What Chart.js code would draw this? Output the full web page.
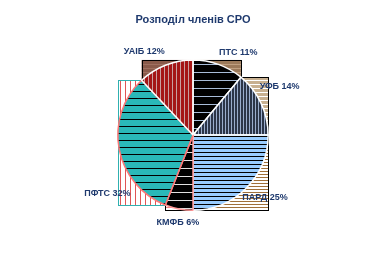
<!DOCTYPE html>
<html>
<head>
<meta charset="utf-8">
<script src="https://cdn.jsdelivr.net/npm/chart.js@4/dist/chart.umd.min.js"></script>
<style>
  html, body { margin:0; padding:0; background:#fff; }
  #wrap { width:389px; height:263px; position:relative; }
</style>
</head>
<body>
<div id="wrap"><canvas id="pie"></canvas></div>
<script>
// ── data ──
const labels = ['ПТС', 'УФБ', 'ПАРД', 'КМФБ', 'ПФТС', 'УАІБ'];
const shares = [11, 14, 25, 6, 32, 12];

const NAVY = '#1f3a6e';

// striped fills, roughly like the old hatch patterns
function stripes(bg, line, gap, vertical) {
  const c = document.createElement('canvas');
  c.width = gap; c.height = gap;
  const x = c.getContext('2d');
  x.fillStyle = bg; x.fillRect(0, 0, gap, gap);
  x.fillStyle = line;
  if (vertical) x.fillRect(0, 0, 1, gap); else x.fillRect(0, 0, gap, 1);
  return x.createPattern(c, 'repeat');
}

const fills = [
  stripes('#000000', '#a8bcd8', 8, false),
  stripes('#2c3548', '#9aaccc', 3, true),
  stripes('#99ccff', '#000000', 4, false),
  stripes('#000000', '#e0e0e0', 8, false),
  stripes('#2ab8b8', '#000000', 7, false),
  stripes('#a41616', '#c8a0a0', 4, true),
];
const edges = ['#ffffff', '#ffffff', '#ffffff', '#ff9999', '#ff7777', '#ffffff'];

// the old renderer leaked each slice's bounding box; mimic those corners
const boxFills = [
  stripes('#9c7a5a', '#c0a080', 4, false),
  stripes('#c8b090', '#ffffff', 4, false),
  stripes('#ffffff', '#a0703a', 3, false),
  stripes('#ffffff', '#f08080', 3, false),
  stripes('#ffffff', '#e05555', 5, true),
  stripes('#8a5a4a', '#a07060', 4, false),
];
const boxEdges = ['#000000', '#000000', '#000000', '#000000', '#30b0b0', '#000000'];

// label placement: angle nudge (deg) off the mid angle, radius factor
const labelPlace = [
  { nudge: 9, k: 1.25 },
  { nudge: -4, k: 1.32 },
  { nudge: -4, k: 1.27 },
  { nudge: -1, k: 1.18 },
  { nudge: -23.5, k: 1.38 },
  { nudge: -8.6, k: 1.29 },
];

function sectorBox(p) {
  const pts = [[p.x, p.y]];
  const add = a => pts.push([p.x + Math.cos(a) * p.outerRadius, p.y + Math.sin(a) * p.outerRadius]);
  add(p.startAngle); add(p.endAngle);
  for (let k = -4; k <= 8; k++) {
    const a = k * Math.PI / 2;
    if (a > p.startAngle && a < p.endAngle) add(a);
  }
  const xs = pts.map(q => q[0]), ys = pts.map(q => q[1]);
  return [Math.min(...xs), Math.min(...ys), Math.max(...xs), Math.max(...ys)];
}

const pieBoxes = {
  id: 'pieBoxes',
  beforeDatasetsDraw(chart) {
    const { ctx } = chart;
    const meta = chart.getDatasetMeta(0);
    ctx.save();
    meta.data.forEach((arc, i) => {
      const p = arc.getProps(['x', 'y', 'startAngle', 'endAngle', 'outerRadius'], true);
      const [x0, y0, x1, y1] = sectorBox(p);
      ctx.fillStyle = boxFills[i];
      ctx.fillRect(x0, y0, x1 - x0, y1 - y0);
      ctx.strokeStyle = boxEdges[i];
      ctx.lineWidth = 1;
      ctx.strokeRect(Math.round(x0) + 0.5, Math.round(y0) + 0.5, Math.round(x1 - x0), Math.round(y1 - y0));
    });
    // keep only the corners outside the circle
    const p0 = meta.data[0].getProps(['x', 'y', 'outerRadius'], true);
    ctx.fillStyle = '#000';
    ctx.beginPath();
    ctx.arc(p0.x, p0.y, p0.outerRadius, 0, Math.PI * 2);
    ctx.fill();
    ctx.restore();
  }
};

const pieLabels = {
  id: 'pieLabels',
  afterDraw(chart) {
    const { ctx } = chart;
    const meta = chart.getDatasetMeta(0);
    ctx.save();
    ctx.font = 'bold 9px "Liberation Sans", Arial, sans-serif';
    ctx.fillStyle = NAVY;
    ctx.textAlign = 'center';
    ctx.textBaseline = 'middle';
    meta.data.forEach((arc, i) => {
      const p = arc.getProps(['x', 'y', 'startAngle', 'endAngle', 'outerRadius'], true);
      const lp = labelPlace[i];
      const a = (p.startAngle + p.endAngle) / 2 + lp.nudge * Math.PI / 180;
      const r = p.outerRadius * lp.k;
      ctx.fillText(labels[i] + ' ' + shares[i] + '%', p.x + Math.cos(a) * r, p.y + Math.sin(a) * r);
    });
    ctx.restore();
  }
};

new Chart(document.getElementById('pie'), {
  type: 'pie',
  data: {
    labels,
    datasets: [{
      data: shares,
      backgroundColor: fills,
      borderColor: edges,
      borderWidth: 1.5,
    }],
  },
  options: {
    responsive: true, maintainAspectRatio: false, animation: false,
    layout: { padding: { top: 0, bottom: 52, left: 0, right: 3 } },
    plugins: {
      legend: { display: false },
      tooltip: { enabled: false },
      title: {
        display: true, text: 'Розподіл членів СРО', color: NAVY,
        font: { family: '"Liberation Sans", Arial, sans-serif', size: 11, weight: 'bold' },
        padding: { top: 13, bottom: 33 },
      },
    },
  },
  plugins: [pieBoxes, pieLabels],
});
</script>
</body>
</html>
